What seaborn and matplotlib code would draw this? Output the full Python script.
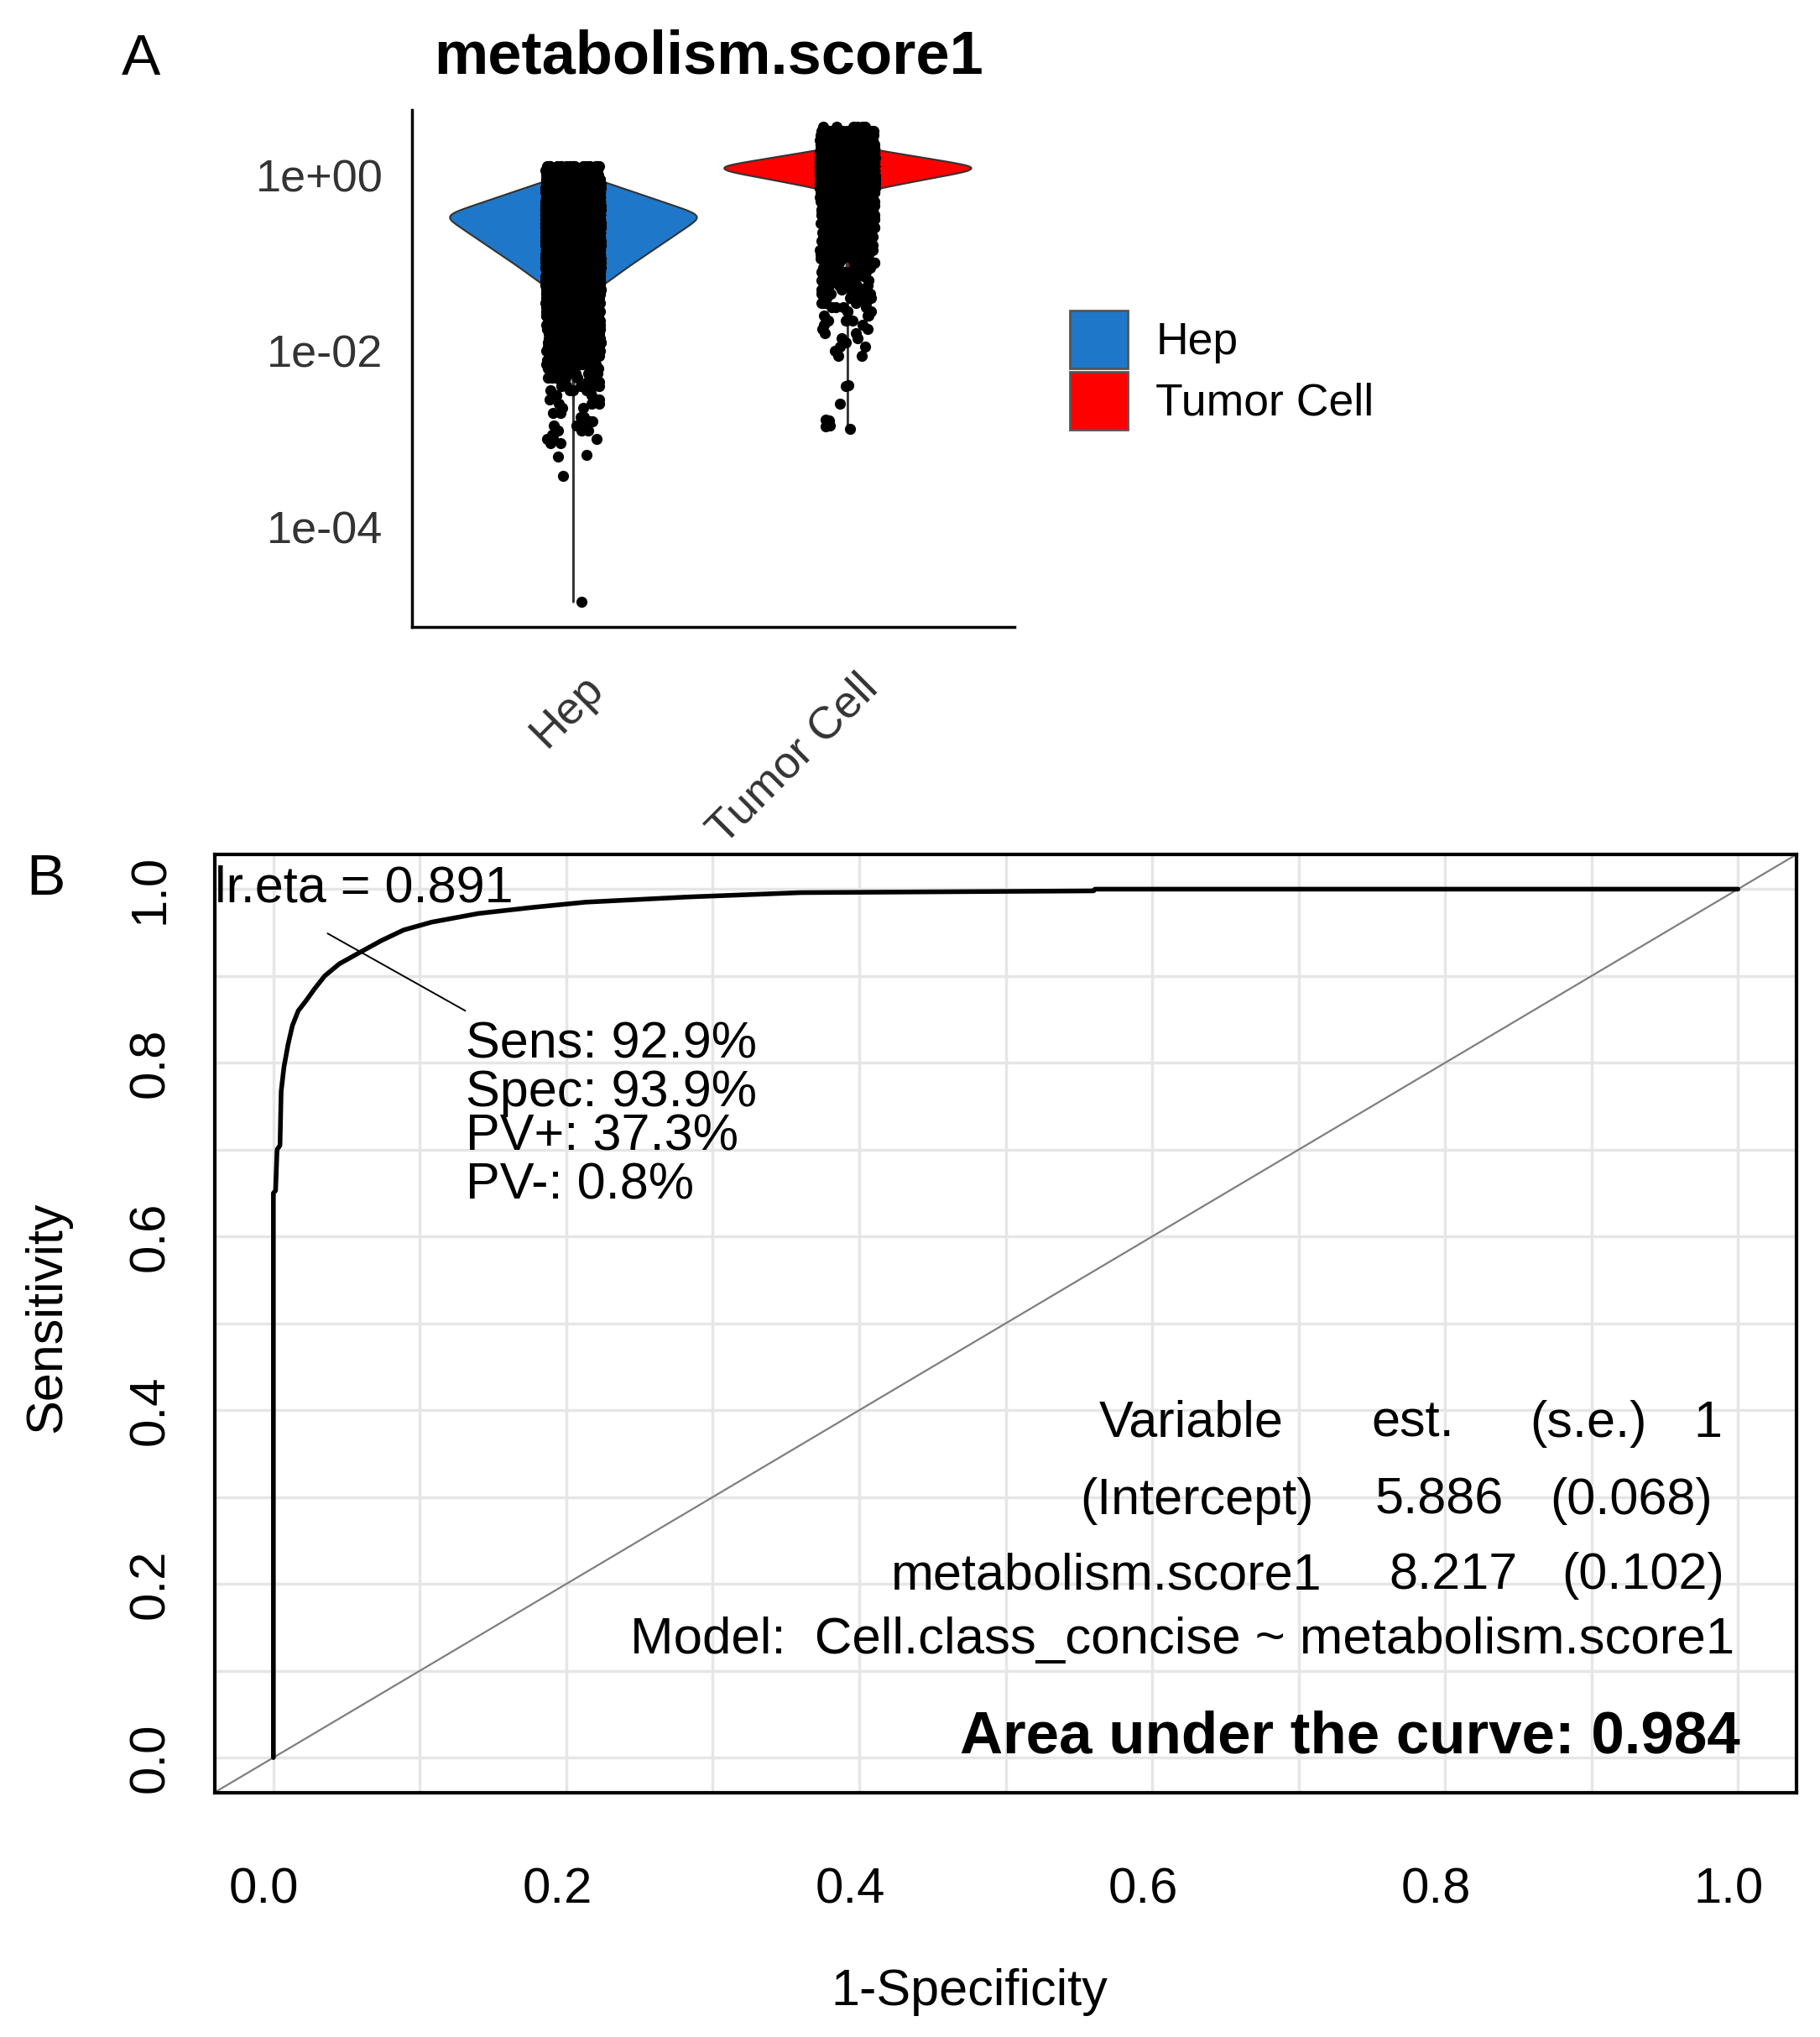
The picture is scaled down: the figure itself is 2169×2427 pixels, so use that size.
import numpy as np
import pandas as pd
import matplotlib
matplotlib.use("Agg")
import matplotlib.pyplot as plt
import matplotlib.transforms as mtransforms
from matplotlib.patches import Patch
import seaborn as sns

# ---------------- data ----------------
groups = ["Hep", "Tumor Cell"]
group_colors = ["#1F77C9", "#FF0000"]

# log10(metabolism.score1) levels and how many cells sit at each level
hep_log_levels = [0.10, 0.05, 0.00, -0.05, -0.10, -0.15, -0.20, -0.25, -0.30, -0.35,
                  -0.40, -0.45, -0.50, -0.55, -0.60, -0.65, -0.70, -0.75, -0.80, -0.85,
                  -0.90, -0.95, -1.00, -1.05, -1.10, -1.15, -1.20, -1.25, -1.30, -1.35,
                  -1.40, -1.45, -1.50, -1.55, -1.60, -1.65, -1.70, -1.75, -1.80, -1.85,
                  -1.90, -1.95, -2.00, -2.05, -2.10, -2.15, -2.20, -2.25, -2.30, -2.35,
                  -2.40, -2.45, -2.50, -2.55, -2.60, -2.65, -2.70, -2.75, -2.80, -2.85,
                  -2.90, -2.95, -3.00, -3.05]
hep_counts = [20, 40, 60, 150, 230, 310, 390, 470, 550, 630,
              710, 790, 770, 730, 690, 650, 610, 570, 530, 490,
              450, 410, 370, 330, 295, 255, 220, 180, 145, 110,
              80, 60, 50, 45, 40, 38, 36, 34, 30, 28,
              26, 22, 20, 16, 14, 12, 9, 7, 6, 5,
              5, 4, 3, 3, 3, 2, 2, 2, 2, 3,
              3, 2, 3, 2]
hep_outliers = [-3.18, -3.20, -3.42, -4.85]

tumor_log_levels = [0.55, 0.50, 0.45, 0.40, 0.35, 0.30, 0.25, 0.20, 0.15, 0.10,
                    0.05, 0.00, -0.05, -0.10, -0.15, -0.20, -0.25, -0.30, -0.35, -0.40,
                    -0.45, -0.50, -0.55, -0.60, -0.65, -0.70, -0.75, -0.80, -0.85, -0.90,
                    -0.95, -1.00, -1.05, -1.10, -1.15, -1.20, -1.25, -1.30, -1.35, -1.40,
                    -1.45, -1.50, -1.55, -1.60, -1.65, -1.70, -1.75, -1.80, -1.85, -1.90,
                    -1.95, -2.00, -2.05]
tumor_counts = [6, 20, 30, 40, 60, 220, 480, 740, 1000, 1250,
                1200, 970, 740, 520, 300, 150, 80, 50, 40, 35,
                30, 28, 26, 24, 22, 20, 18, 16, 16, 15,
                15, 14, 12, 11, 10, 9, 8, 7, 6, 5,
                4, 4, 3, 3, 3, 2, 2, 2, 2, 1,
                2, 1, 2]
tumor_outliers = [-2.39, -2.40, -2.60, -2.78, -2.79, -2.85, -2.86, -2.88]

y_tick_pos = [0, -2, -4]
y_tick_labels = ["1e+00", "1e-02", "1e-04"]

# ROC curve (1-specificity, sensitivity)
roc_fpr = [0.000, 0.000, 0.0015, 0.0025, 0.0045, 0.0053, 0.0072, 0.010, 0.013, 0.017,
           0.0225, 0.028, 0.035, 0.045, 0.061, 0.074, 0.089, 0.108, 0.140, 0.177,
           0.213, 0.283, 0.360, 0.560, 0.561, 1.000]
roc_tpr = [0.000, 0.650, 0.653, 0.700, 0.705, 0.767, 0.795, 0.821, 0.843, 0.860,
           0.872, 0.885, 0.900, 0.914, 0.929, 0.941, 0.953, 0.962, 0.972, 0.979,
           0.985, 0.991, 0.996, 0.998, 1.000, 1.000]

opt_sens = 0.929
opt_spec = 0.939
opt_pv_plus = 0.373
opt_pv_minus = 0.008
lr_eta = 0.891
auc = 0.984

coef_names = ["(Intercept)", "metabolism.score1"]
coef_est = [5.886, 8.217]
coef_se = [0.068, 0.102]
model_formula = "Cell.class_concise ~ metabolism.score1"

roc_ticks = [0.0, 0.2, 0.4, 0.6, 0.8, 1.0]
roc_grid = [0.0, 0.1, 0.2, 0.3, 0.4, 0.5, 0.6, 0.7, 0.8, 0.9, 1.0]

# ---------------- figure ----------------
sns.set_style("white")
plt.rcParams["font.family"] = ["Liberation Sans", "DejaVu Sans"]
plt.rcParams["text.color"] = "black"
plt.rcParams["xtick.labelcolor"] = "black"
plt.rcParams["ytick.labelcolor"] = "black"

W, H = 2169, 2427
fig = plt.figure(figsize=(W / 100, H / 100), dpi=100)


def px_axes(left, top, right, bottom):
    return fig.add_axes([left / W, 1 - bottom / H, (right - left) / W, (bottom - top) / H])


def px_text(x, y, s, **kw):
    fig.text(x / W, 1 - y / H, s, **kw)


# ---------- panel A : violin + jitter ----------
hep_vals = np.concatenate([np.repeat(hep_log_levels, hep_counts), hep_outliers])
tumor_vals = np.concatenate([np.repeat(tumor_log_levels, tumor_counts), tumor_outliers])
df = pd.DataFrame({
    "group": ["Hep"] * len(hep_vals) + ["Tumor Cell"] * len(tumor_vals),
    "log_score": np.concatenate([hep_vals, tumor_vals]),
})

ax_a = px_axes(491, 131, 1209, 747)
sns.violinplot(data=df, x="group", y="log_score", hue="group", order=groups,
               hue_order=groups, palette=dict(zip(groups, group_colors)),
               saturation=1, inner=None, cut=0, density_norm="width", width=0.9,
               linewidth=1.5, linecolor="#333333", bw_adjust=0.8, gridsize=400,
               dodge=False, legend=False, ax=ax_a)
np.random.seed(7)  # only for the horizontal jitter of the points
sns.stripplot(data=df, x="group", y="log_score", order=groups, color="black",
              jitter=0.1, size=9.5, linewidth=0, ax=ax_a)

ax_a.set_xlim(-0.587, 1.609)
ax_a.set_ylim(-5.134, 0.739)
ax_a.set_xlabel("")
ax_a.set_ylabel("")
ax_a.set_yticks(y_tick_pos)
ax_a.set_yticklabels(y_tick_labels, fontsize=39, color="#333333")
ax_a.set_xticks(range(len(groups)))
ax_a.set_xticklabels([])
for side in ["top", "right"]:
    ax_a.spines[side].set_visible(False)
for side in ["left", "bottom"]:
    ax_a.spines[side].set_linewidth(2.5)
    ax_a.spines[side].set_color("black")
ax_a.tick_params(axis="y", length=14, width=2, color="#333333", pad=11)
ax_a.tick_params(axis="x", length=11.5, width=2, color="#333333")
for i, g in enumerate(groups):
    ax_a.text(i + 0.116, -0.122, g, transform=ax_a.get_xaxis_transform(),
              rotation=45, rotation_mode="anchor", ha="right", va="baseline",
              fontsize=39, color="#333333")

handles = [Patch(facecolor=c, edgecolor="#555555", linewidth=2) for c in group_colors]
fig.legend(handles, groups, loc="upper left", bbox_to_anchor=(1275 / W, 1 - 370 / H),
           bbox_transform=fig.transFigure, frameon=False, fontsize=38.5,
           handlelength=1.29, handleheight=1.61, handletextpad=0.62,
           labelspacing=0.07, borderpad=0, borderaxespad=0)

px_text(145, 89, "A", fontsize=50, ha="left", va="baseline")
px_text(844, 88, "metabolism.score1", fontsize=52, fontweight="bold",
        ha="center", va="baseline")

# ---------- panel B : ROC ----------
ax_b = px_axes(256, 1018, 2141, 2135.5)
ax_b.set_xlim(-0.04, 1.04)
ax_b.set_ylim(-0.04, 1.04)
for g in roc_grid:
    ax_b.axvline(g, color="#E6E6E6", lw=2.5, zorder=0)
    ax_b.axhline(g, color="#E6E6E6", lw=2.5, zorder=0)
ax_b.axline((0, 0), slope=1, color="#7F7F7F", lw=1.6, zorder=1)
sns.lineplot(x=roc_fpr, y=roc_tpr, sort=False, estimator=None, color="black",
             lw=4, ax=ax_b, zorder=3)

opt_x = 1 - opt_spec
ax_b.plot([opt_x - 0.024, opt_x + 0.070], [opt_sens + 0.020, opt_sens - 0.069],
          color="black", lw=1.4, zorder=4)

ax_b.set_xticks(roc_ticks)
ax_b.set_xticklabels([f"{t:.1f}" for t in roc_ticks], fontsize=43)
ax_b.set_yticks(roc_ticks)
ax_b.set_yticklabels([f"{t:.1f}" for t in roc_ticks], fontsize=43, rotation=90,
                     va="center")
ax_b.tick_params(axis="x", length=29, width=1.6, color="black", pad=35,
                 labelcolor="black")
ax_b.tick_params(axis="y", length=31, width=2.5, color="#555555", pad=4,
                 labelcolor="black")
shift = mtransforms.ScaledTranslation(-11 / 100, 0, fig.dpi_scale_trans)
for lab in ax_b.get_xticklabels():
    lab.set_transform(lab.get_transform() + shift)
for side in ax_b.spines.values():
    side.set_linewidth(3)
    side.set_color("black")
ax_b.set_xlabel("")
ax_b.set_ylabel("")

txt = dict(fontsize=44, ha="left", va="baseline", color="black", zorder=5)
ax_b.text(-0.040, 0.985, f"lr.eta = {lr_eta:.3f}", **txt)
ax_b.text(0.1314, 0.8055, f"Sens: {opt_sens * 100:.1f}%", **txt)
ax_b.text(0.1314, 0.750, f"Spec: {opt_spec * 100:.1f}%", **txt)
ax_b.text(0.1314, 0.699, f"PV+: {opt_pv_plus * 100:.1f}%", **txt)
ax_b.text(0.1314, 0.6435, f"PV-: {opt_pv_minus * 100:.1f}%", **txt)

ax_b.text(0.5635, 0.3695, "Variable", **txt)
ax_b.text(0.750, 0.3695, "est.", **txt)
ax_b.text(0.858, 0.3695, "(s.e.)", **txt)
ax_b.text(0.970, 0.3695, "1", **txt)
row_y = [0.2805, 0.194]
name_x = [0.551, 0.422]
est_x = [0.752, 0.762]
se_x = [0.8717, 0.880]
for k in range(len(coef_names)):
    ax_b.text(name_x[k], row_y[k], coef_names[k], **txt)
    ax_b.text(est_x[k], row_y[k], f"{coef_est[k]:.3f}", **txt)
    ax_b.text(se_x[k], row_y[k], f"({coef_se[k]:.3f})", **txt)
ax_b.text(0.2435, 0.1195, f"Model:  {model_formula}", fontsize=44.5, ha="left",
          va="baseline", color="black", zorder=5)
ax_b.text(1.0017, 0.0052, f"Area under the curve: {auc:.3f}", fontsize=51,
          fontweight="bold", ha="right", va="baseline", color="black", zorder=5)

px_text(31, 1066, "B", fontsize=50, ha="left", va="baseline")
px_text(57, 1569, "Sensitivity", fontsize=44, rotation=90, ha="center", va="center")
px_text(1155, 2389, "1-Specificity", fontsize=44, ha="center", va="baseline")

fig.savefig("out.png", dpi=100)
